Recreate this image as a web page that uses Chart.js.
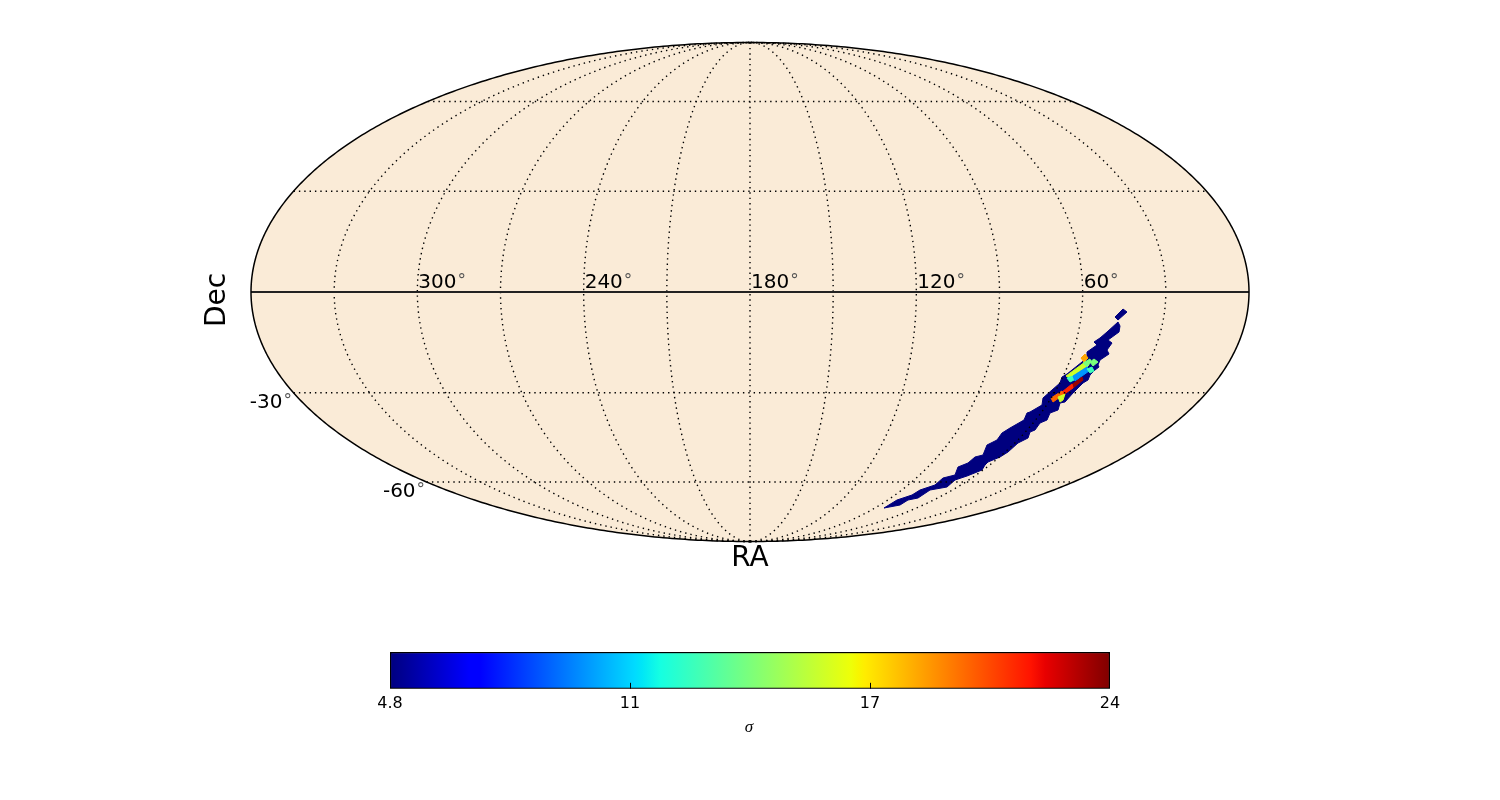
<!DOCTYPE html>
<html>
<head>
<meta charset="utf-8">
<title>Sky map</title>
<script src="https://cdn.jsdelivr.net/npm/chart.js@4/dist/chart.umd.min.js"></script>
<style>
html, body { margin: 0; padding: 0; background: #fff; overflow: hidden; }
#wrap { position: relative; width: 1500px; height: 800px; }
#mapCanvas { position: absolute; left: 0; top: 0; }
#barCanvas { position: absolute; left: 0; top: 640px; }
</style>
</head>
<body>
<div id="wrap">
<canvas id="mapCanvas" width="1500" height="640"></canvas>
<canvas id="barCanvas" width="1500" height="108"></canvas>
</div>
<script>
// plot plane of the Mollweide map: half width and half height of the sky ellipse
const planeX = 499;
const planeY = 249.5;

// graticule
const meridians = [-150, -120, -90, -60, -30, 0, 30, 60, 90, 120, 150];
const parallels = [190.5, 100.8, -100.8, -190];

// labels
const raLabels = ['300', '240', '180', '120', '60'];
const raTickLon = [-120, -60, 0, 60, 120];
const decLabels = ['-30', '-60'];
const decTickLat = [-100.8, -190];

// significance region, plot plane coordinates
const tipX = [365, 373, 377, 368];
const tipY = [-25, -17, -20, -28];
const bodyX = [368, 357, 350, 344, 347, 337, 337, 317, 312, 310, 302, 293, 292, 280, 277, 274, 260, 252, 247, 237, 233, 225, 218, 208, 205, 193, 185, 170, 162, 147, 134,
    150, 158, 168, 180, 197, 205, 217, 232, 235, 238, 250, 258, 268, 278, 280, 285, 290, 297, 300, 308, 310, 315, 323, 333, 338, 340, 345, 349, 348, 350, 359, 357, 362, 358, 369, 370];
const bodyY = [-30, -40, -46, -50, -53, -60, -66, -82, -85, -91, -98, -106, -113, -120, -121, -128, -136, -141, -148, -153, -163, -165, -171, -175, -183, -186, -193, -198, -203, -208, -216,
    -213, -208, -206, -198, -195, -188, -184, -178, -173, -170, -165, -160, -151, -146, -140, -138, -131, -128, -121, -118, -111, -110, -101, -91, -88, -83, -78, -75, -73, -68, -62, -58, -51, -48, -40, -34];

// hot cells on top of the region
const cellSigma = [18.9, 16.3, 14.4, 12.9, 10.0, 23.6, 21.6, 20.2, 16.3, 14.4, 13.0];
const cellX = [
    [331, 335, 338, 334],
    [316, 335, 339, 320],
    [333, 340, 341, 337],
    [317, 323, 324, 320],
    [323, 337, 339, 325],
    [320, 332, 333, 323],
    [312, 322, 323, 313],
    [301, 312, 313, 303],
    [308, 315, 313, 310],
    [340, 344, 348, 343],
    [337, 342, 344, 340]
];
const cellY = [
    [-66, -62, -66, -70],
    [-84, -70, -73, -86],
    [-71, -67, -70, -75],
    [-86, -84, -88, -90],
    [-84, -75, -79, -89],
    [-94, -85, -88, -96],
    [-100, -92, -96, -103],
    [-106, -99, -103, -110],
    [-105, -102, -108, -110],
    [-70, -67, -70, -74],
    [-77, -75, -79, -81]
];

// colorbar
const sigmaMin = 4.8;
const sigmaMax = 24;
const sigmaTicks = [4.8, 11.2, 17.6, 24];
const sigmaTickLabels = ['4.8', '11', '17', '24'];
const jetStops = [0, 0.11, 0.125, 0.34, 0.35, 0.375, 0.64, 0.65, 0.66, 0.89, 0.91, 1];
const jetR = [0, 0, 0, 0, 0, 21, 238, 247, 255, 255, 232, 127];
const jetG = [0, 0, 0, 219, 230, 255, 255, 246, 236, 19, 0, 0];
const jetB = [127, 255, 255, 255, 247, 226, 8, 0, 0, 0, 0, 0];

function jetColor(t) {
    let i = 0;
    while (i < jetStops.length - 2 && t > jetStops[i + 1]) i++;
    const f = (t - jetStops[i]) / (jetStops[i + 1] - jetStops[i]);
    const mix = a => Math.round(a[i] + (a[i + 1] - a[i]) * f);
    return `rgb(${mix(jetR)},${mix(jetG)},${mix(jetB)})`;
}

function sigmaColor(s) {
    return jetColor((s - sigmaMin) / (sigmaMax - sigmaMin));
}

function zip(xs, ys) {
    const pts = xs.map((x, i) => ({ x: x, y: ys[i] }));
    pts.push(pts[0]);
    return pts;
}

function halfWidth(y) {
    return planeX * Math.sqrt(Math.max(0, 1 - (y * y) / (planeY * planeY)));
}

function ellipsePoints() {
    const pts = [];
    for (let a = 0; a <= 720; a++) {
        const t = a * Math.PI / 360;
        pts.push({ x: planeX * Math.cos(t), y: planeY * Math.sin(t) });
    }
    return pts;
}

function meridianPoints(lon) {
    const pts = [];
    for (let a = -180; a <= 180; a++) {
        const t = a * Math.PI / 360;
        const y = planeY * Math.sin(t);
        pts.push({ x: lon / 180 * halfWidth(y), y: y });
    }
    return pts;
}

const datasets = [];
function addLayer(ds) {
    ds.order = 1000 - datasets.length;
    ds.showLine = true;
    ds.pointRadius = 0;
    ds.clip = false;
    // a dash longer than the path keeps the line solid and skips the fast path,
    // which snaps vertices to whole pixel columns
    if (!ds.borderDash) ds.borderDash = [5000, 1];
    datasets.push(ds);
}

addLayer({ data: ellipsePoints(), fill: 'shape', backgroundColor: '#FAEBD7', borderColor: 'rgba(0,0,0,0)', borderWidth: 0 });
addLayer({ data: zip(bodyX, bodyY), fill: 'shape', backgroundColor: sigmaColor(4.8), borderColor: sigmaColor(4.8), borderWidth: 1 });
addLayer({ data: zip(tipX, tipY), fill: 'shape', backgroundColor: sigmaColor(4.8), borderColor: sigmaColor(4.8), borderWidth: 1 });
cellSigma.forEach((s, i) => {
    addLayer({ data: zip(cellX[i], cellY[i]), fill: 'shape', backgroundColor: sigmaColor(s), borderColor: sigmaColor(s), borderWidth: 1 });
});
meridians.forEach(lon => {
    addLayer({ data: meridianPoints(lon), borderColor: '#000', borderWidth: 1.4, borderDash: [1.4, 3.95], fill: false });
});
parallels.forEach(y => {
    const w = halfWidth(y);
    addLayer({ data: [{ x: -w, y: y }, { x: w, y: y }], borderColor: '#000', borderWidth: 1.4, borderDash: [1.4, 3.95], fill: false });
});
addLayer({ data: [{ x: -planeX, y: 0 }, { x: planeX, y: 0 }], borderColor: '#222', borderWidth: 1.8, fill: false });
addLayer({ data: ellipsePoints(), borderColor: '#000', borderWidth: 1.5, fill: false });

const mapLabels = {
    id: 'mapLabels',
    afterDatasetsDraw(chart) {
        const { ctx, scales } = chart;
        const cx = scales.x.getPixelForValue(0);
        const cy = scales.y.getPixelForValue(0);
        // number first, then the thin raised ring
        const degreeText = (t, x, y) => {
            ctx.font = '20px "DejaVu Sans"';
            ctx.fillStyle = '#000';
            ctx.fillText(t, x, y);
            const w = ctx.measureText(t).width;
            ctx.font = '17px "DejaVu Sans"';
            ctx.fillStyle = '#555';
            ctx.fillText('°', x + w + 1, y - 2);
        };
        ctx.save();
        ctx.textBaseline = 'alphabetic';
        ctx.textAlign = 'left';
        raLabels.forEach((t, i) => {
            const px = scales.x.getPixelForValue(raTickLon[i] / 180 * planeX);
            degreeText(t, px + 1, cy - 4);
        });
        decLabels.forEach((t, i) => {
            const y = scales.y.getPixelForValue(decTickLat[i]);
            const px = scales.x.getPixelForValue(-halfWidth(decTickLat[i]));
            ctx.font = '20px "DejaVu Sans"';
            const w = ctx.measureText(t).width;
            degreeText(t, px - 11 - w, y + 15);
        });
        ctx.fillStyle = '#000';
        ctx.font = '28px "DejaVu Sans"';
        ctx.textAlign = 'center';
        ctx.fillText('RA', cx, scales.y.bottom + 24);
        ctx.translate(scales.x.left - 26, cy + 8);
        ctx.rotate(-Math.PI / 2);
        ctx.fillText('Dec', 0, 0);
        ctx.restore();
    }
};

new Chart(document.getElementById('mapCanvas'), {
    type: 'scatter',
    data: { datasets: datasets },
    plugins: [mapLabels],
    options: {
        responsive: false,
        animation: false,
        layout: { padding: { left: 251, right: 251, top: 42.5, bottom: 98.5 } },
        plugins: { legend: { display: false }, tooltip: { enabled: false } },
        scales: {
            x: { type: 'linear', display: false, min: -planeX, max: planeX },
            y: { type: 'linear', display: false, min: -planeY, max: planeY }
        }
    }
});

const barTicks = {
    id: 'barTicks',
    afterDatasetsDraw(chart) {
        const { ctx, scales, chartArea } = chart;
        ctx.save();
        ctx.strokeStyle = '#000';
        ctx.lineWidth = 1;
        sigmaTicks.slice(1, -1).forEach(v => {
            const px = Math.round(scales.x.getPixelForValue(v)) + 0.5;
            ctx.beginPath();
            ctx.moveTo(px, chartArea.bottom);
            ctx.lineTo(px, chartArea.bottom - 6);
            ctx.stroke();
        });
        // axis title drawn here: a scale may only take half the canvas height
        ctx.fillStyle = '#000';
        ctx.font = 'italic 17px "Liberation Serif"';
        ctx.textAlign = 'center';
        ctx.textBaseline = 'middle';
        ctx.fillText('σ', (chartArea.left + chartArea.right) / 2 - 1, scales.x.bottom + 10);
        ctx.restore();
    }
};

new Chart(document.getElementById('barCanvas'), {
    type: 'bar',
    data: {
        labels: ['σ'],
        datasets: [{
            data: [[sigmaMin, sigmaMax]],
            barPercentage: 1,
            categoryPercentage: 1,
            borderColor: '#000',
            borderWidth: 1.5,
            borderSkipped: false,
            backgroundColor(c) {
                const area = c.chart.chartArea;
                if (!area) return '#000080';
                const g = c.chart.ctx.createLinearGradient(area.left, 0, area.right, 0);
                jetStops.forEach(s => g.addColorStop(s, jetColor(s)));
                return g;
            }
        }]
    },
    plugins: [barTicks],
    options: {
        indexAxis: 'y',
        responsive: false,
        animation: false,
        layout: { padding: { left: 390, right: 390, top: 12, bottom: 30 } },
        plugins: { legend: { display: false }, tooltip: { enabled: false } },
        scales: {
            x: {
                type: 'linear',
                min: sigmaMin,
                max: sigmaMax,
                grid: { display: false, drawTicks: false },
                border: { display: false },
                afterBuildTicks(axis) { axis.ticks = sigmaTicks.map(v => ({ value: v })); },
                ticks: {
                    autoSkip: false,
                    maxRotation: 0,
                    padding: 5,
                    color: '#000',
                    font: { family: '"DejaVu Sans"', size: 16 },
                    callback(value, index) { return sigmaTickLabels[index]; }
                }
            },
            y: { display: false }
        }
    }
});
</script>
</body>
</html>
